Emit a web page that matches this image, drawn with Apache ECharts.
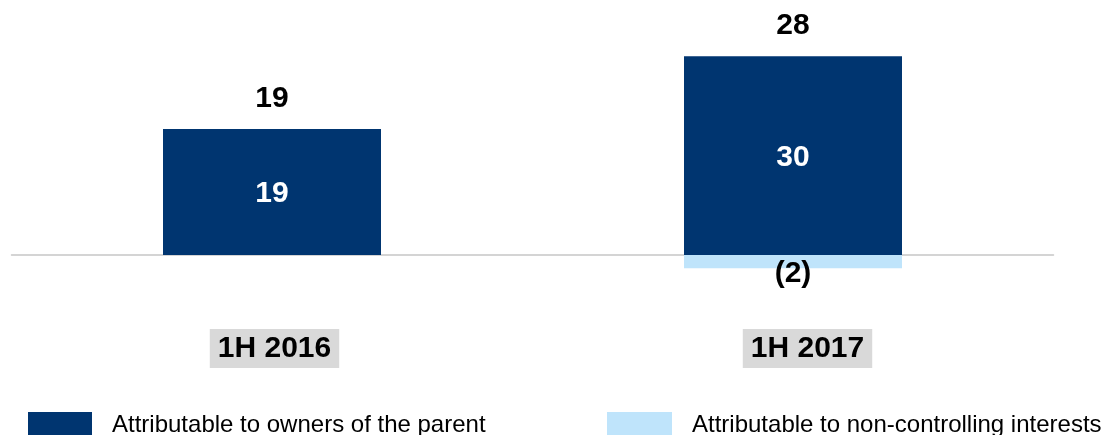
<!DOCTYPE html>
<html>
<head>
<meta charset="utf-8">
<script src="https://cdn.jsdelivr.net/npm/echarts@6/dist/echarts.min.js"></script>
<style>
html,body{margin:0;padding:0;background:#fff;}
#chart{width:1103px;height:435px;}
</style>
</head>
<body>
<div id="chart"></div>
<script>
const categories = ['1H 2016', '1H 2017'];
const ownersOfParent = [19, 30];
const nonControlling = [null, -2];
const totals = [19, 28];
const seriesNames = ['Attributable to owners of the parent', 'Attributable to non-controlling interests'];

const DARK = '#003570';
const LIGHT = '#bfe4fb';
const FONT = "'Liberation Sans', Arial, sans-serif";

const chart = echarts.init(document.getElementById('chart'));
chart.setOption({
  animation: false,
  backgroundColor: '#fff',
  textStyle: { fontFamily: FONT },
  grid: [
    { left: 11.5, right: 49.5, top: 23, bottom: 147, containLabel: false },
    { left: 8, right: 29, top: 23, bottom: 147, containLabel: false }
  ],
  xAxis: [
    {
      type: 'category', gridIndex: 0, data: categories,
      axisLine: { show: true, onZero: true, lineStyle: { color: '#c6c6c6', width: 1.5 } },
      axisTick: { show: false }, axisLabel: { show: false }, splitLine: { show: false }
    },
    {
      type: 'category', gridIndex: 1, data: categories,
      axisLine: { show: false, onZero: false }, axisTick: { show: false }, splitLine: { show: false },
      axisLabel: {
        show: true, margin: 41, fontSize: 30, fontWeight: 'bold', color: '#000',
        fontFamily: FONT, lineHeight: 31, backgroundColor: '#d9d9d9', padding: [4, 8, 4, 8]
      }
    }
  ],
  yAxis: [
    { type: 'value', gridIndex: 0, min: -5, max: 35, show: false, splitLine: { show: false } },
    { type: 'value', gridIndex: 1, min: -5, max: 35, show: false, splitLine: { show: false } }
  ],
  legend: [
    {
      data: [seriesNames[0]], left: 28, top: 412, padding: 0, itemWidth: 64, itemHeight: 26, icon: 'rect',
      textStyle: { fontSize: 24, color: '#000', fontFamily: FONT, padding: [0, 0, 4, 15] }
    },
    {
      data: [seriesNames[1]], left: 607, top: 412, padding: 0, itemWidth: 65, itemHeight: 26, icon: 'rect',
      textStyle: { fontSize: 24, color: '#000', fontFamily: FONT, padding: [0, 0, 4, 15] }
    }
  ],
  series: [
    {
      name: seriesNames[0], type: 'bar', stack: 'total', xAxisIndex: 0, yAxisIndex: 0,
      data: ownersOfParent, barWidth: 218, itemStyle: { color: DARK },
      label: { show: true, position: 'inside', offset: [0, 2], color: '#fff', fontSize: 30, fontWeight: 'bold', fontFamily: FONT }
    },
    {
      name: seriesNames[1], type: 'bar', stack: 'total', xAxisIndex: 0, yAxisIndex: 0,
      data: nonControlling, barWidth: 218, itemStyle: { color: LIGHT },
      label: {
        show: true, position: 'inside', offset: [0, 12], color: '#000', fontSize: 30, fontWeight: 'bold', fontFamily: FONT,
        formatter: p => (p.value < 0 ? '(' + Math.abs(p.value) + ')' : String(p.value))
      }
    },
    {
      name: 'Total', type: 'scatter', xAxisIndex: 0, yAxisIndex: 0, symbolSize: 0,
      data: ownersOfParent, silent: true, itemStyle: { opacity: 1 },
      label: {
        show: true, position: 'top', distance: 15, color: '#000', fontSize: 30, fontWeight: 'bold', fontFamily: FONT,
        formatter: p => String(totals[p.dataIndex])
      }
    }
  ]
});
</script>
</body>
</html>
